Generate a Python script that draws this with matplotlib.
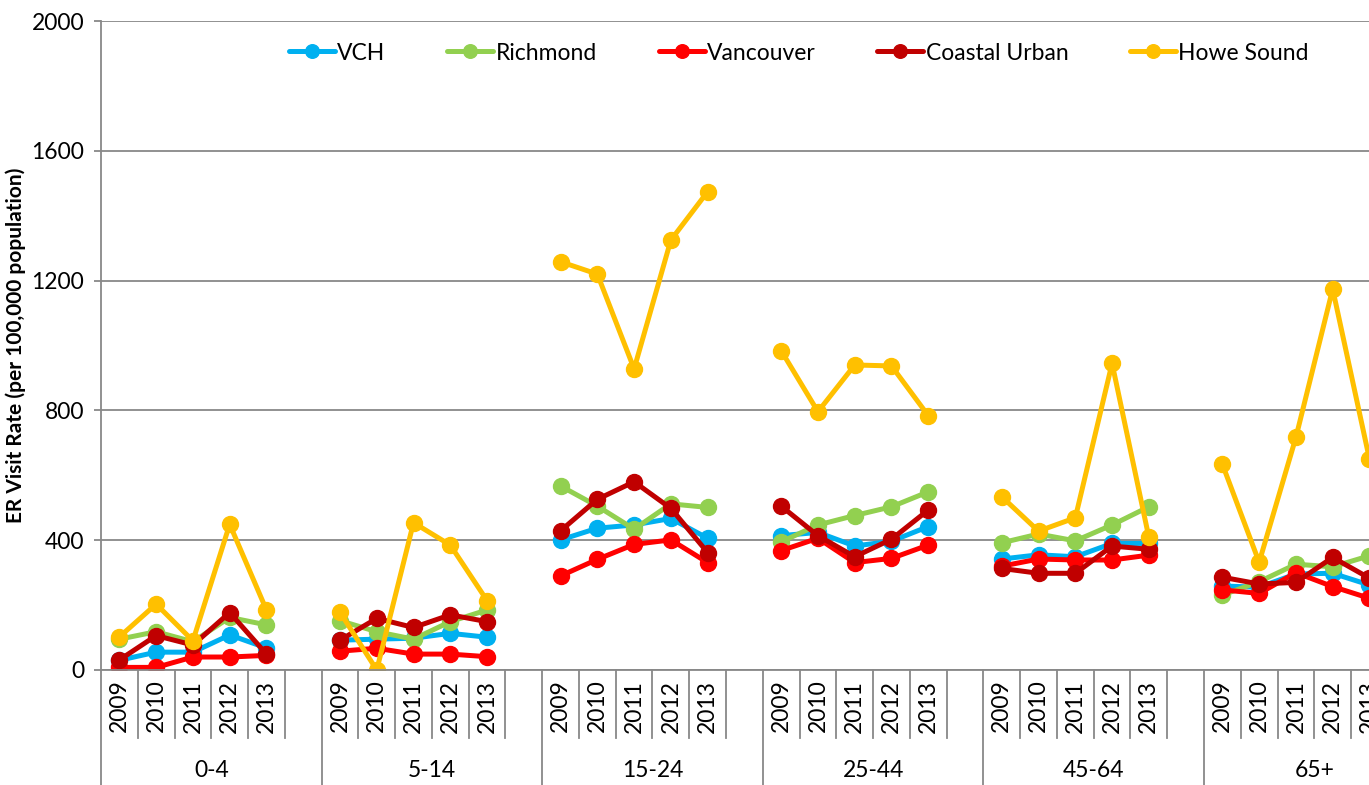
import matplotlib
matplotlib.use("Agg")
import matplotlib.pyplot as plt
import matplotlib.transforms as mtransforms

plt.rcParams['font.family'] = ['Lato', 'DejaVu Sans']

age_groups = ["0-4", "5-14", "15-24", "25-44", "45-64", "65+"]
years = ["2009", "2010", "2011", "2012", "2013"]

series_names = ["VCH", "Richmond", "Vancouver", "Coastal Urban", "Howe Sound"]
colors = ["#00B0F0", "#92D050", "#FF0000", "#C00000", "#FFC000"]

# one list per region, 5 years per age group
vch = [[30, 55, 55, 108, 68],
       [92, 95, 98, 113, 101],
       [401, 437, 447, 467, 406],
       [414, 424, 382, 397, 442],
       [342, 355, 349, 390, 390],
       [259, 255, 296, 298, 262]]
richmond = [[95, 118, 87, 162, 139],
            [152, 118, 95, 149, 185],
            [567, 505, 434, 512, 501],
            [395, 447, 476, 503, 549],
            [392, 419, 398, 447, 503],
            [231, 272, 326, 318, 352]]
vancouver = [[8, 8, 40, 40, 45],
             [58, 67, 49, 49, 41],
             [290, 341, 387, 401, 331],
             [368, 406, 331, 344, 385],
             [320, 342, 339, 339, 354],
             [247, 236, 300, 257, 221]]
coastal_urban = [[31, 106, 77, 177, 49],
                 [92, 159, 131, 170, 149],
                 [429, 526, 580, 498, 362],
                 [505, 414, 349, 403, 493],
                 [313, 298, 298, 382, 372],
                 [286, 265, 270, 347, 283]]
howe_sound = [[102, 203, 90, 449, 185],
              [178, 0, 454, 385, 214],
              [1258, 1220, 928, 1325, 1474],
              [984, 796, 940, 937, 784],
              [534, 428, 469, 945, 409],
              [634, 332, 717, 1174, 650]]

all_series = [vch, richmond, vancouver, coastal_urban, howe_sound]

fig = plt.figure(figsize=(13.69, 7.85), dpi=100)
# axes runs past the right edge on purpose (65+ group is cut off in the original)
ax = fig.add_axes([101 / 1369, 115 / 785, 1323.6 / 1369, 649 / 785])

slots = len(years) + 1
for name, col, data in zip(series_names, colors, all_series):
    for g, vals in enumerate(data):
        xs = [g * slots + i for i in range(len(years))]
        ax.plot(xs, vals, color=col, lw=3.6, marker='o', ms=11.5,
                solid_capstyle='round', label=name if g == 0 else None)

ax.set_ylim(0, 2000)
ax.set_xlim(-0.5, len(age_groups) * slots - 0.5)
ax.set_yticks([0, 400, 800, 1200, 1600, 2000])
ax.yaxis.grid(True, color='#888888', lw=1.3)
ax.set_axisbelow(True)
for s in ['top', 'right']:
    ax.spines[s].set_visible(False)
for s in ['left', 'bottom']:
    ax.spines[s].set_color('#888888')
    ax.spines[s].set_linewidth(1.3)
ax.tick_params(axis='y', length=5, color='#888888', width=1.3, labelsize=16.5, pad=7)

tick_pos = []
tick_lab = []
for g in range(len(age_groups)):
    for i, y in enumerate(years):
        tick_pos.append(g * slots + i)
        tick_lab.append(y)
ax.set_xticks(tick_pos, tick_lab, rotation=90)
ax.tick_params(axis='x', length=0, labelsize=16.5, pad=7)

trans = mtransforms.blended_transform_factory(ax.transData, ax.transAxes)
for k in range(len(age_groups) * slots + 1):
    bottom = -0.18 if k % slots == 0 else -0.105
    ax.plot([k - 0.5, k - 0.5], [0, bottom], color='#888888', lw=1.3,
            transform=trans, clip_on=False)

for g, lab in enumerate(age_groups):
    ax.text(g * slots + 2.5, -0.1556, lab, transform=trans, ha='center',
            va='center', fontsize=16.5)

ax.set_ylabel("ER Visit Rate (per 100,000 population)", fontsize=15,
              fontweight='bold', labelpad=4)

fig.legend(ncol=5, frameon=False, loc='center',
           bbox_to_anchor=(799 / 1369, 1 - 53 / 785), fontsize=16.5,
           handlelength=2.0, handletextpad=0.1, columnspacing=2.7,
           markerscale=0.85)

fig.savefig("out.png", dpi=100)
